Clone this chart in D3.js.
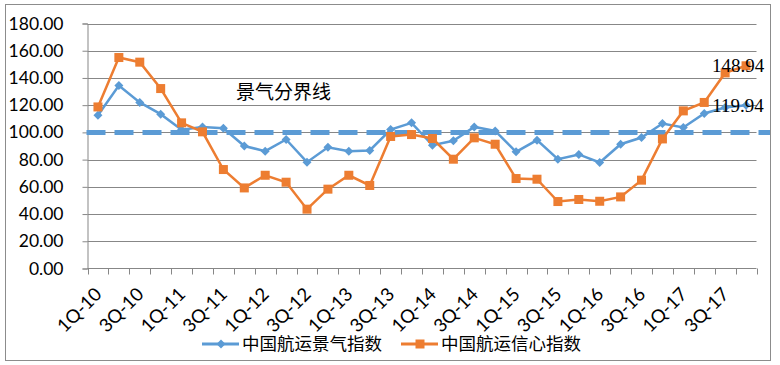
<!DOCTYPE html>
<html>
<head>
<meta charset="utf-8">
<script src="https://cdn.jsdelivr.net/npm/d3@7"></script>
<style>
  body { margin: 0; background: #fff; }
</style>
</head>
<body>
<script>
// --------------------------China shipping index line chart-------------------------------------

let w = 780
let h = 365

let years = ["10", "11", "12", "13", "14", "15", "16", "17"]
let quarters = []
years.forEach(y => [1, 2, 3, 4].forEach(q => quarters.push(q + "Q-" + y)))

// 中国航运景气指数
let prosperity = [112.6, 134.4, 122.0, 113.4, 102.0, 104.0, 103.0, 90.0,
                  86.2, 94.8, 78.1, 89.1, 86.2, 86.7, 102.1, 107.0,
                  90.6, 93.8, 104.0, 101.1, 85.7, 94.3, 80.3, 83.8,
                  77.9, 91.3, 96.2, 106.5, 103.6, 113.9, 118.3, 119.94]
// 中国航运信心指数
let confidence = [118.7, 155.0, 151.6, 132.2, 107.0, 100.4, 72.7, 59.2,
                  68.5, 63.4, 43.6, 58.3, 68.5, 61.0, 97.0, 98.4,
                  95.5, 80.3, 96.0, 91.3, 66.1, 65.6, 49.2, 50.7,
                  49.4, 52.6, 64.9, 95.2, 115.8, 122.0, 143.7, 148.94]

let yTicks = [0, 20, 40, 60, 80, 100, 120, 140, 160, 180]
let boundary = 100

let blue = "#5B9BD5"
let orange = "#ED7D31"
let grid = "#878787"

let svg = d3.select("body")
            .append("svg")
            .attr("width", w)
            .attr("height", h)

// outer frame
svg.append("rect")
    .attr("x", 5.5).attr("y", 4.5)
    .attr("width", 765).attr("height", 356)
    .attr("fill", "#fff")
    .attr("stroke", "#8c8c8c")

let pLeft = 87.5, pRight = 756.5, pTop = 23.5, pBottom = 268.5

let x = d3.scaleBand().domain(quarters).range([pLeft, pRight])
let y = d3.scaleLinear().domain([0, 180]).range([pBottom, pTop])
let cx = d => x(d) + x.bandwidth() / 2

// horizontal grid lines
svg.selectAll("line.grid")
    .data(yTicks.filter(d => d > 0))
    .enter()
    .append("line")
        .attr("class", "grid")
        .attr("x1", pLeft).attr("x2", pRight)
        .attr("y1", d => Math.round(y(d)) + 0.5)
        .attr("y2", d => Math.round(y(d)) + 0.5)
        .attr("stroke", grid)

// y axis
let yAxis = svg.append("g")
    .attr("transform", `translate(${pLeft},0)`)
    .call(d3.axisLeft(y).tickValues(yTicks).tickFormat(d3.format(".2f")).tickSize(5).tickPadding(19))
yAxis.select(".domain").attr("stroke", grid)
yAxis.selectAll(".tick line").attr("stroke", grid)
yAxis.selectAll(".tick text")
    .attr("font-family", "Lato, 'Open Sans', sans-serif")
    .attr("font-size", "17.5px")
    .attr("fill", "#000")

// x axis line and ticks at category borders
svg.append("line")
    .attr("x1", pLeft).attr("x2", pRight)
    .attr("y1", pBottom).attr("y2", pBottom)
    .attr("stroke", grid)
let borders = quarters.map(q => x(q)).concat([pRight])
svg.selectAll("line.xtick")
    .data(borders)
    .enter()
    .append("line")
        .attr("class", "xtick")
        .attr("x1", d => Math.round(d) + 0.5).attr("x2", d => Math.round(d) + 0.5)
        .attr("y1", pBottom).attr("y2", pBottom + 6)
        .attr("stroke", grid)

// x labels, every other quarter, rotated
svg.selectAll("text.xlab")
    .data(quarters.filter((q, i) => i % 2 === 0))
    .enter()
    .append("text")
        .attr("class", "xlab")
        .text(d => d)
        .attr("transform", d => `translate(${cx(d) + 5},${pBottom + 27}) rotate(-45)`)
        .attr("text-anchor", "end")
        .attr("font-family", "Lato, 'Open Sans', sans-serif")
        .attr("font-size", "18.5px")
        .attr("fill", "#000")

// boundary line at 100
svg.append("line")
    .attr("x1", pLeft - 1).attr("x2", 770)
    .attr("y1", y(boundary)).attr("y2", y(boundary))
    .attr("stroke", blue)
    .attr("stroke-width", 5)
    .attr("stroke-dasharray", "19,9")

svg.append("text")
    .text("景气分界线")
    .attr("x", 236).attr("y", 99)
    .attr("font-family", "'Noto Sans CJK SC', sans-serif")
    .attr("font-size", "19px")
    .attr("fill", "#000")

let line = d3.line().x((d, i) => cx(quarters[i])).y(d => y(d))

// prosperity series
svg.append("path")
    .datum(prosperity)
    .attr("d", line)
    .attr("fill", "none")
    .attr("stroke", blue)
    .attr("stroke-width", 2.5)
svg.selectAll("path.diamond")
    .data(prosperity)
    .enter()
    .append("path")
        .attr("class", "diamond")
        .attr("d", "M0,-4.5L4.5,0L0,4.5L-4.5,0Z")
        .attr("transform", (d, i) => `translate(${cx(quarters[i])},${y(d)})`)
        .attr("fill", blue)

// confidence series
svg.append("path")
    .datum(confidence)
    .attr("d", line)
    .attr("fill", "none")
    .attr("stroke", orange)
    .attr("stroke-width", 2.5)
svg.selectAll("rect.square")
    .data(confidence)
    .enter()
    .append("rect")
        .attr("class", "square")
        .attr("x", (d, i) => cx(quarters[i]) - 4.5)
        .attr("y", d => y(d) - 4.5)
        .attr("width", 9).attr("height", 9)
        .attr("fill", orange)

// last value labels
let last = quarters.length - 1
svg.selectAll("text.vlab")
    .data([confidence[last], prosperity[last]])
    .enter()
    .append("text")
        .attr("class", "vlab")
        .text(d => d.toFixed(2))
        .attr("x", cx(quarters[last]) - 8)
        .attr("y", d => y(d))
        .attr("dy", "0.35em")
        .attr("text-anchor", "middle")
        .attr("font-family", "'Liberation Serif', serif")
        .attr("font-size", "19px")
        .attr("fill", "#000")

// legend
let legend = [
    { name: "中国航运景气指数", color: blue, shape: "diamond", x: 202 },
    { name: "中国航运信心指数", color: orange, shape: "square", x: 401 }
]
let lg = svg.selectAll("g.legend")
    .data(legend)
    .enter()
    .append("g")
        .attr("class", "legend")
        .attr("transform", d => `translate(${d.x},344)`)
lg.append("line")
    .attr("x1", 0).attr("x2", 37)
    .attr("stroke", d => d.color)
    .attr("stroke-width", 3)
lg.append("path")
    .attr("d", d => d.shape === "diamond" ? "M0,-4.5L4.5,0L0,4.5L-4.5,0Z" : "M-4.5,-4.5H4.5V4.5H-4.5Z")
    .attr("transform", "translate(19,0)")
    .attr("fill", d => d.color)
lg.append("text")
    .text(d => d.name)
    .attr("x", 40)
    .attr("dy", "0.36em")
    .attr("font-family", "'Noto Sans CJK SC', sans-serif")
    .attr("font-size", "17.5px")
    .attr("fill", "#000")
</script>
</body>
</html>
